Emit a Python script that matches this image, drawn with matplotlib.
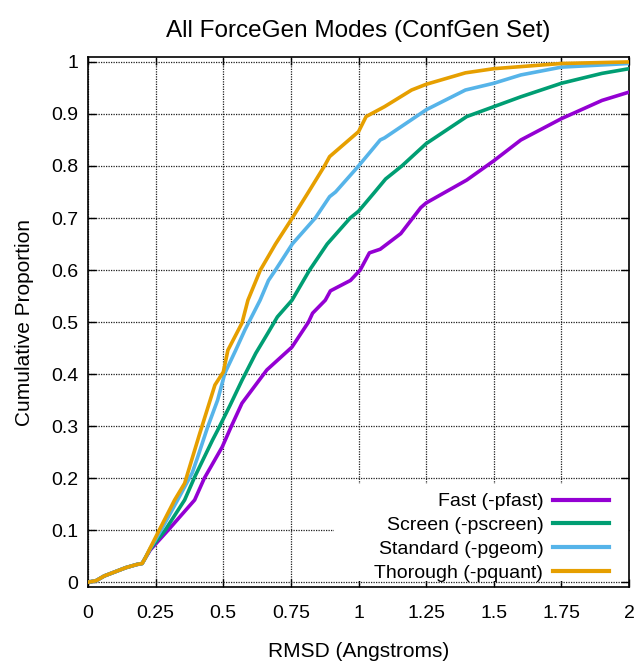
import matplotlib.pyplot as plt
from matplotlib.patches import Rectangle

plt.rcParams['font.family'] = ['Liberation Sans', 'DejaVu Sans']

# Cumulative proportion vs RMSD
fast_x = [0, 0.03, 0.06, 0.1, 0.14, 0.18, 0.2, 0.21, 0.23, 0.296, 0.394, 0.43,
          0.496, 0.53, 0.569, 0.661, 0.754, 0.815, 0.83, 0.877, 0.896, 0.97, 1.006,
          1.04, 1.08, 1.156, 1.23, 1.25, 1.4, 1.5, 1.6, 1.75, 1.9, 2.0]
fast_y = [0, 0.003, 0.012, 0.02, 0.028, 0.034, 0.036, 0.045, 0.062, 0.1, 0.158, 0.2,
          0.26, 0.3, 0.344, 0.408, 0.452, 0.5, 0.517, 0.542, 0.56, 0.58, 0.6,
          0.633, 0.64, 0.67, 0.72, 0.729, 0.773, 0.81, 0.85, 0.891, 0.926, 0.942]

screen_x = [0, 0.03, 0.06, 0.1, 0.14, 0.18, 0.2, 0.21, 0.23, 0.285, 0.357, 0.394,
            0.46, 0.479, 0.525, 0.569, 0.62, 0.665, 0.7, 0.754, 0.819, 0.884, 0.969,
            1.0, 1.06, 1.1, 1.16, 1.25, 1.4, 1.5, 1.6, 1.75, 1.9, 2.0]
screen_y = [0, 0.003, 0.012, 0.02, 0.028, 0.034, 0.036, 0.045, 0.064, 0.1, 0.158, 0.202,
            0.273, 0.292, 0.34, 0.388, 0.44, 0.479, 0.51, 0.542, 0.6, 0.65, 0.7,
            0.713, 0.75, 0.775, 0.8, 0.843, 0.895, 0.914, 0.933, 0.959, 0.978, 0.987]

standard_x = [0, 0.03, 0.06, 0.1, 0.14, 0.18, 0.2, 0.21, 0.23, 0.27, 0.331, 0.385,
              0.405, 0.442, 0.479, 0.506, 0.545, 0.58, 0.636, 0.667, 0.693, 0.755,
              0.84, 0.893, 0.915, 1.0, 1.08, 1.096, 1.25, 1.395, 1.5, 1.6, 1.75, 2.0]
standard_y = [0, 0.003, 0.012, 0.02, 0.028, 0.034, 0.036, 0.045, 0.065, 0.1, 0.158, 0.21,
              0.24, 0.298, 0.35, 0.402, 0.445, 0.485, 0.542, 0.58, 0.6, 0.65,
              0.7, 0.741, 0.75, 0.8, 0.85, 0.854, 0.908, 0.946, 0.959, 0.975, 0.99, 0.997]

thorough_x = [0, 0.03, 0.06, 0.1, 0.14, 0.18, 0.2, 0.21, 0.23, 0.263, 0.32, 0.357,
              0.413, 0.469, 0.5, 0.517, 0.569, 0.591, 0.637, 0.693, 0.755,
              0.815, 0.874, 0.893, 1.0, 1.028, 1.096, 1.196, 1.25, 1.395, 1.5, 1.75, 2.0]
thorough_y = [0, 0.003, 0.012, 0.02, 0.028, 0.034, 0.036, 0.045, 0.066, 0.1, 0.158, 0.19,
              0.286, 0.379, 0.404, 0.446, 0.498, 0.542, 0.6, 0.65, 0.7,
              0.75, 0.8, 0.818, 0.866, 0.895, 0.914, 0.946, 0.957, 0.979, 0.987, 0.997, 1.0]

labels = ["Fast (-pfast)", "Screen (-pscreen)", "Standard (-pgeom)", "Thorough (-pquant)"]
colors = ["#9400D3", "#009E73", "#56B4E9", "#E69F00"]

x_ticks = [0, 0.25, 0.5, 0.75, 1, 1.25, 1.5, 1.75, 2]
x_tick_labels = ["0", "0.25", "0.5", "0.75", "1", "1.25", "1.5", "1.75", "2"]
y_ticks = [0, 0.1, 0.2, 0.3, 0.4, 0.5, 0.6, 0.7, 0.8, 0.9, 1]
y_tick_labels = ["0", "0.1", "0.2", "0.3", "0.4", "0.5", "0.6", "0.7", "0.8", "0.9", "1"]

fig = plt.figure(figsize=(6.38, 6.62), dpi=100)
ax = fig.add_axes([0.138, 0.113, 0.848, 0.801])

series = [(fast_x, fast_y), (screen_x, screen_y), (standard_x, standard_y), (thorough_x, thorough_y)]
for (xs, ys), lab, col in zip(series, labels, colors):
    ax.plot(xs, ys, color=col, lw=2.6, label=lab, zorder=3)

ax.set_xlim(0, 2)
ax.set_ylim(-0.0096, 1.0096)
ax.set_xticks(x_ticks)
ax.set_xticklabels(x_tick_labels)
ax.set_yticks(y_ticks)
ax.set_yticklabels(y_tick_labels)
ax.tick_params(direction="in", top=True, right=True, length=6, width=1,
               labelsize=14)
ax.tick_params(axis="x", pad=13)
ax.tick_params(axis="y", pad=7)
ax.grid(True, color="0.12", lw=0.9, linestyle=(0, (1.0, 1.0)))
ax.set_axisbelow(True)
for s in ax.spines.values():
    s.set_linewidth(1.2)

# blank area behind the key, like gnuplot's key box
ax.add_patch(Rectangle((0.455, 0.012), 0.545, 0.183, transform=ax.transAxes,
                       facecolor="white", edgecolor="none", zorder=1.5))

leg = ax.legend(loc="lower right", bbox_to_anchor=(0.962, 0.01), markerfirst=False,
                frameon=False, fontsize=14, handlelength=2.85, handletextpad=0.5,
                labelspacing=0.32, borderaxespad=0, borderpad=0)
for h in leg.get_lines():
    h.set_linewidth(3)

ax.set_title("All ForceGen Modes (ConfGen Set)", fontsize=17.5, pad=14)
ax.set_xlabel("RMSD (Angstroms)", fontsize=15, labelpad=14)
ax.set_ylabel("Cumulative Proportion", fontsize=15, labelpad=12)

fig.savefig("out.png", dpi=100)
